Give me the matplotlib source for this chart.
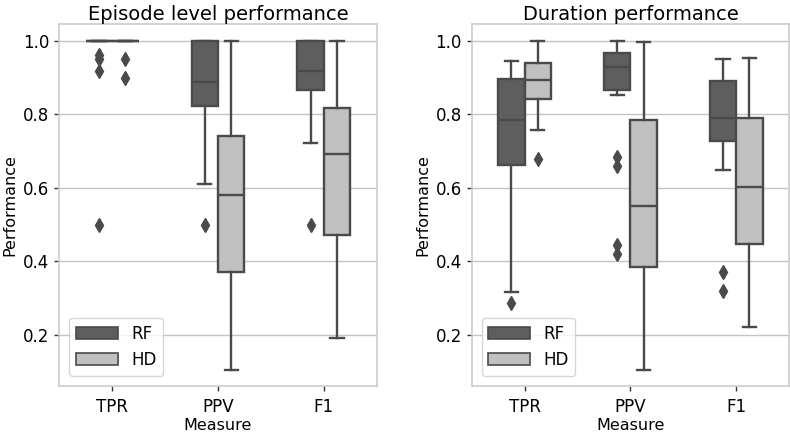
import matplotlib
matplotlib.use("Agg")
import matplotlib.pyplot as plt
from matplotlib.patches import Patch

measures = ["TPR", "PPV", "F1"]
models = ["RF", "HD"]

# Episode level performance: per model, per measure
ep_q1 = {"RF": [1.0, 0.823, 0.865], "HD": [1.0, 0.371, 0.471]}
ep_med = {"RF": [1.0, 0.888, 0.916], "HD": [1.0, 0.580, 0.693]}
ep_q3 = {"RF": [1.0, 1.0, 1.0], "HD": [1.0, 0.741, 0.816]}
ep_lo = {"RF": [1.0, 0.611, 0.722], "HD": [1.0, 0.105, 0.191]}
ep_hi = {"RF": [1.0, 1.0, 1.0], "HD": [1.0, 1.0, 1.0]}
ep_fl = {"RF": [[0.961, 0.949, 0.916, 0.5], [0.5], [0.5]],
         "HD": [[0.949, 0.898], [], []]}

# Duration performance
du_q1 = {"RF": [0.662, 0.866, 0.726], "HD": [0.841, 0.384, 0.448]}
du_med = {"RF": [0.785, 0.929, 0.789], "HD": [0.893, 0.551, 0.603]}
du_q3 = {"RF": [0.895, 0.966, 0.891], "HD": [0.940, 0.785, 0.789]}
du_lo = {"RF": [0.316, 0.852, 0.649], "HD": [0.757, 0.105, 0.221]}
du_hi = {"RF": [0.945, 1.0, 0.949], "HD": [1.0, 0.996, 0.952]}
du_fl = {"RF": [[0.286], [0.685, 0.660, 0.445, 0.420], [0.370, 0.321]],
         "HD": [[0.678], [], []]}

titles = ["Episode level performance", "Duration performance"]
yticks = [0.2, 0.4, 0.6, 0.8, 1.0]

fills = {"RF": "#5e5e5e", "HD": "#c0c0c0"}
edge = "#4a4a4a"
W, H = 790, 433

fig = plt.figure(figsize=(7.9, 4.33), dpi=100)
axes = [fig.add_axes([59.3 / W, (H - 385.7) / H, 317.4 / W, 361.7 / H]),
        fig.add_axes([471.7 / W, (H - 385.7) / H, 317.4 / W, 361.7 / H])]

datasets = [(ep_q1, ep_med, ep_q3, ep_lo, ep_hi, ep_fl),
            (du_q1, du_med, du_q3, du_lo, du_hi, du_fl)]

offsets = {"RF": -0.125, "HD": 0.125}
for ax, (q1, med, q3, lo, hi, fl), title in zip(axes, datasets, titles):
    ax.set_axisbelow(True)
    ax.yaxis.grid(True, color="#c4c4c4", linewidth=1.0)
    for m in models:
        stats = []
        for i in range(len(measures)):
            stats.append(dict(q1=q1[m][i], med=med[m][i], q3=q3[m][i],
                              whislo=lo[m][i], whishi=hi[m][i],
                              fliers=fl[m][i]))
        pos = [i + offsets[m] for i in range(len(measures))]
        ax.bxp(stats, positions=pos, widths=0.25, patch_artist=True,
               showcaps=True, manage_ticks=False,
               boxprops=dict(facecolor=fills[m], edgecolor=edge, linewidth=1.7),
               medianprops=dict(color=edge, linewidth=1.7),
               whiskerprops=dict(color=edge, linewidth=1.7),
               capprops=dict(color=edge, linewidth=1.7),
               flierprops=dict(marker="d", markerfacecolor=edge,
                               markeredgecolor=edge, markersize=7,
                               linestyle="none"))
    ax.set_xlim(-0.5, 2.5)
    ax.set_ylim(0.0625, 1.045)
    ax.set_xticks(range(len(measures)))
    ax.set_xticklabels(measures)
    ax.set_yticks(yticks)
    ax.set_yticklabels([f"{v:.1f}" for v in yticks])
    ax.tick_params(labelsize=12, length=3.5, color="#333333", width=1)
    ax.tick_params(axis="x", pad=5)
    for s in ax.spines.values():
        s.set_color("#cccccc")
        s.set_linewidth(1.2)
    ax.set_xlabel("Measure", fontsize=11.5, labelpad=1.5)
    ax.set_ylabel("Performance", fontsize=11.5)
    ax.set_title(title, fontsize=14, pad=3)
    handles = [Patch(facecolor=fills[m], edgecolor=edge, linewidth=1.2, label=m)
               for m in models]
    ax.legend(handles=handles, loc="lower left", fontsize=12,
              frameon=True, edgecolor="#cccccc", handlelength=2.5,
              borderaxespad=0.6)

fig.savefig("out.png", dpi=100)
